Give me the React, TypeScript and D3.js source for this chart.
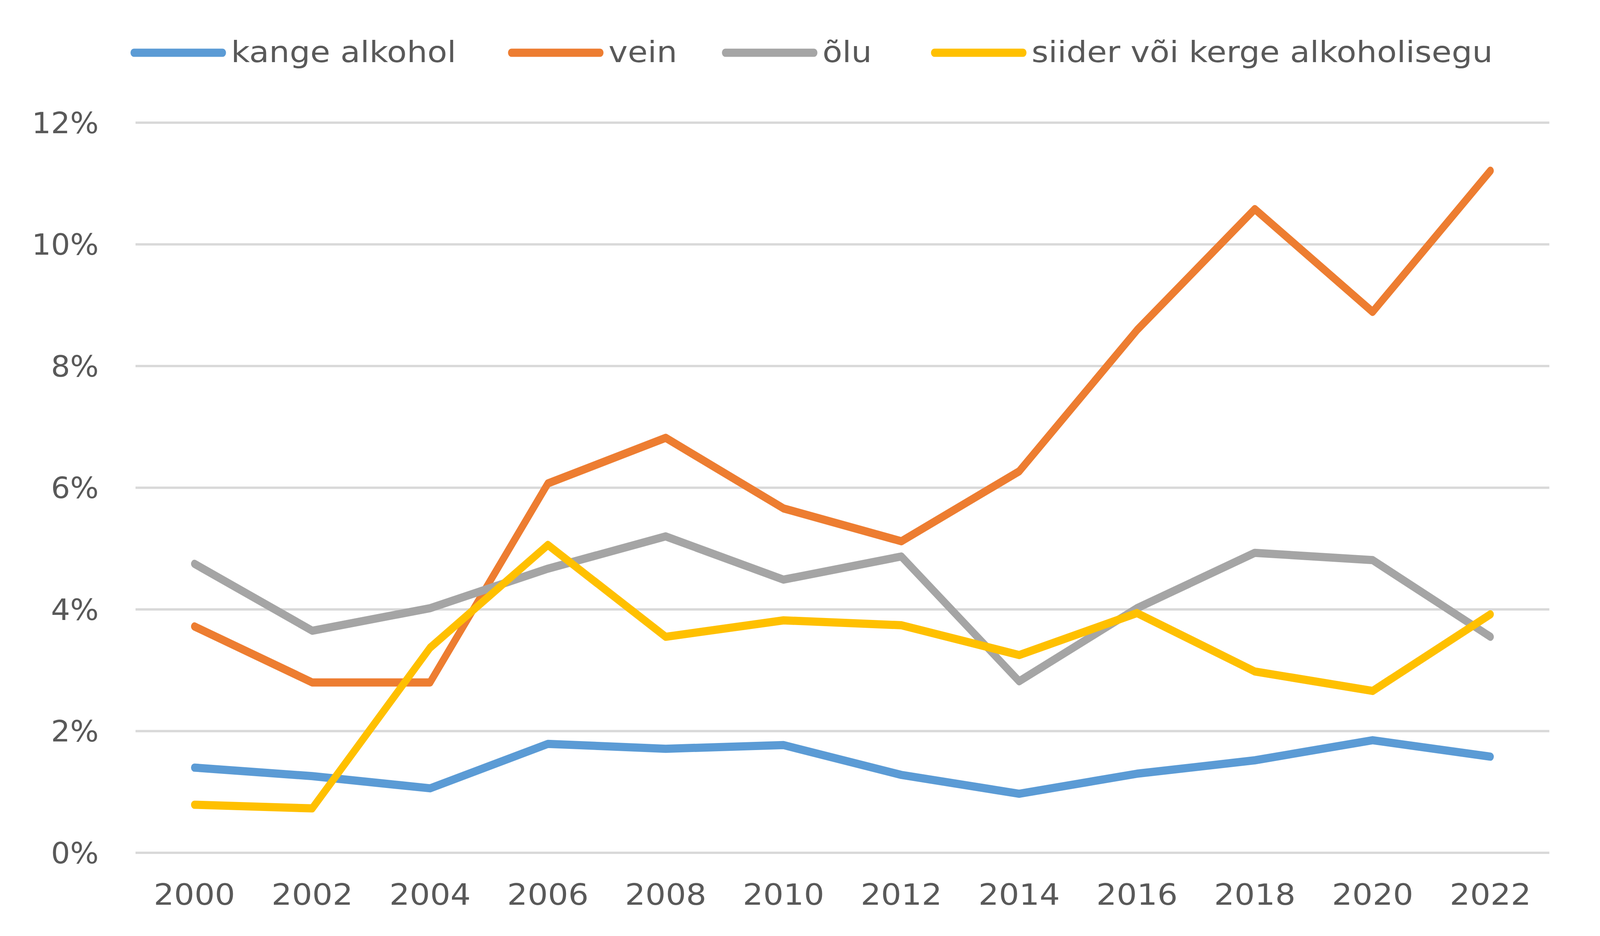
import { useEffect, useRef } from "react";
import * as d3 from "d3";

const years = ["2000", "2002", "2004", "2006", "2008", "2010", "2012", "2014", "2016", "2018", "2020", "2022"];
const kange = [1.4, 1.26, 1.06, 1.79, 1.71, 1.77, 1.28, 0.97, 1.3, 1.52, 1.85, 1.58];
const vein = [3.72, 2.8, 2.8, 6.07, 6.82, 5.66, 5.12, 6.27, 8.59, 10.58, 8.89, 11.21];
const olu = [4.75, 3.65, 4.02, 4.67, 5.2, 4.49, 4.87, 2.82, 4.02, 4.93, 4.81, 3.55];
const siider = [0.79, 0.73, 3.37, 5.06, 3.55, 3.82, 3.74, 3.25, 3.94, 2.98, 2.66, 3.92];
const yTicks = [0, 2, 4, 6, 8, 10, 12];

const series = [
  { name: "kange alkohol", values: kange, color: "#5B9BD5" },
  { name: "vein", values: vein, color: "#ED7D31" },
  { name: "õlu", values: olu, color: "#A5A5A5" },
  { name: "siider või kerge alkoholisegu", values: siider, color: "#FFC000" },
];

const W = 4959;
const H = 2396;
const margin = { top: 314, right: 157, bottom: 213, left: 420 };
const FONT = "DejaVu Sans";
const TEXT = "#595959";

export default function App() {
  const svgRef = useRef<SVGSVGElement>(null);

  useEffect(() => {
    if (!svgRef.current) return;
    const svg = d3.select(svgRef.current);
    svg.selectAll("*").remove();

    const x = d3
      .scaleBand()
      .domain(years)
      .range([margin.left, W - margin.right]);
    const cx = (yr: string) => (x(yr) as number) + x.bandwidth() / 2;

    const y = d3
      .scaleLinear()
      .domain([0, 12])
      .range([H - margin.bottom, margin.top]);

    // gridlines
    svg
      .append("g")
      .selectAll("line")
      .data(yTicks)
      .join("line")
      .attr("x1", margin.left)
      .attr("x2", W - margin.right)
      .attr("y1", (d) => y(d))
      .attr("y2", (d) => y(d))
      .attr("stroke", "#d9d9d9")
      .attr("stroke-width", 6);

    // y labels (the picture's text is stretched sideways)
    svg
      .append("g")
      .selectAll("text")
      .data(yTicks)
      .join("text")
      .attr("transform", (d) => `translate(306,${y(d)}) scale(1.26,1)`)
      .attr("dy", "0.36em")
      .attr("text-anchor", "end")
      .attr("font-family", FONT)
      .attr("font-size", 74)
      .attr("fill", TEXT)
      .text((d) => `${d}%`);

    // x labels
    svg
      .append("g")
      .selectAll("text")
      .data(years)
      .join("text")
      .attr("transform", (d) => `translate(${cx(d)},2316) scale(1.34,1)`)
      .attr("text-anchor", "middle")
      .attr("font-family", FONT)
      .attr("font-size", 74)
      .attr("fill", TEXT)
      .text((d) => d);

    // lines
    const line = d3
      .line<number>()
      .x((_, i) => cx(years[i]))
      .y((d) => y(d));

    svg
      .append("g")
      .selectAll("path")
      .data(series)
      .join("path")
      .attr("d", (d) => line(d.values))
      .attr("fill", "none")
      .attr("stroke", (d) => d.color)
      .attr("stroke-width", 21)
      .attr("stroke-linejoin", "round")
      .attr("stroke-linecap", "round");

    // legend
    const legendX = [405, 1575, 2238, 2886];
    const leg = svg
      .append("g")
      .selectAll("g")
      .data(series)
      .join("g")
      .attr("transform", (_, i) => `translate(${legendX[i]},135)`);
    leg
      .append("line")
      .attr("x1", 10)
      .attr("x2", 285)
      .attr("stroke", (d) => d.color)
      .attr("stroke-width", 21)
      .attr("stroke-linecap", "round");
    leg
      .append("text")
      .attr("transform", "translate(311,24) scale(1.34,1)")
      .attr("font-family", FONT)
      .attr("font-size", 75)
      .attr("fill", TEXT)
      .text((d) => d.name);
  }, []);

  return (
    <svg
      ref={svgRef}
      viewBox={`0 0 ${W} ${H}`}
      preserveAspectRatio="none"
      style={{
        position: "fixed",
        left: 0,
        top: 0,
        width: "100vw",
        height: "100vh",
        background: "#fff",
      }}
    />
  );
}
